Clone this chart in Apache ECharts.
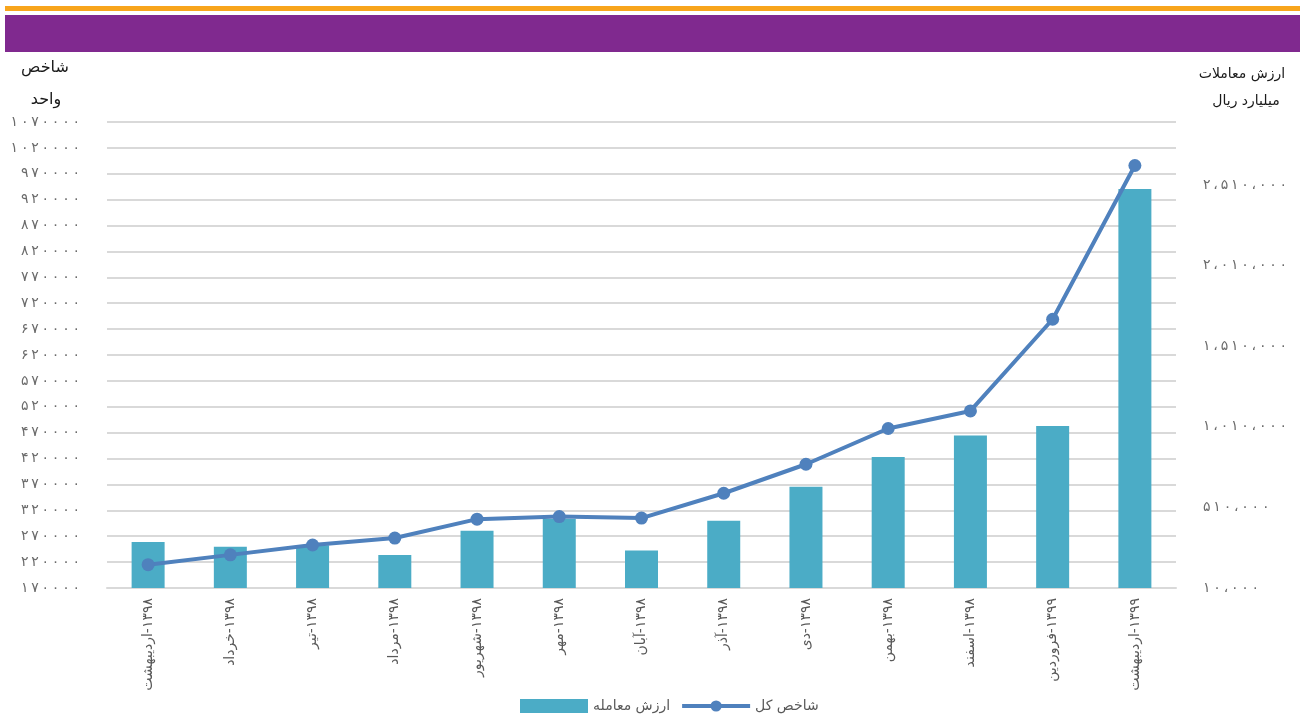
<!DOCTYPE html>
<html>
<head>
<meta charset="utf-8">
<script src="https://cdn.jsdelivr.net/npm/echarts@6/dist/echarts.min.js"></script>
<style>
html,body{margin:0;padding:0;background:#fff;}
#c{width:1300px;height:714px;}
</style>
</head>
<body>
<div id="c"></div>
<script>
var months = ['اردیبهشت','خرداد','تیر','مرداد','شهریور','مهر','آبان','آذر','دی','بهمن','اسفند','فروردین','اردیبهشت'];
var years = ['۱۳۹۸','۱۳۹۸','۱۳۹۸','۱۳۹۸','۱۳۹۸','۱۳۹۸','۱۳۹۸','۱۳۹۸','۱۳۹۸','۱۳۹۸','۱۳۹۸','۱۳۹۹','۱۳۹۹'];
var tradeValue = [295000, 266000, 275000, 215000, 365000, 438000, 243000, 427000, 638000, 822000, 956000, 1014000, 2485000];
var indexValue = [215000, 234000, 253000, 266500, 303000, 308000, 305000, 353000, 409000, 478000, 512000, 689000, 986000];
var leftAxisMin = 170000, leftAxisMax = 1070000, leftAxisStep = 50000;
var rightAxisMin = 10000, rightAxisMax = 2900000, rightAxisStep = 500000;
var seriesNames = ['ارزش معامله', 'شاخص کل'];
var leftAxisTitle = ['شاخص', 'واحد'];
var rightAxisTitle = ['ارزش معاملات', 'میلیارد ریال'];

// category label: month on the left, year on the right (LRM keeps the year separate)
var categories = months.map(function(m, i){ return m + '\u200E-' + years[i]; });

var FA = '۰۱۲۳۴۵۶۷۸۹';
var THIN = '\u2009';
function toFa(s){ return String(s).replace(/[0-9]/g, function(d){ return FA[+d]; }); }
function spaced(s){ return s.split('').join(THIN); }
function faComma(n){ return toFa(String(n).replace(/\B(?=(\d{3})+(?!\d))/g, '،')); }

var FONT = "'DejaVu Sans', sans-serif";
var chart = echarts.init(document.getElementById('c'), null, {renderer:'canvas'});
chart.setOption({
  animation: false,
  textStyle: {fontFamily: FONT},
  graphic: [
    {type:'rect', shape:{x:5, y:6, width:1295, height:5}, style:{fill:'#F8A51C'}},
    {type:'rect', shape:{x:5, y:15, width:1295, height:37}, style:{fill:'#80298F'}},
    {type:'text', x:45, y:60, style:{text:leftAxisTitle[0], fill:'#1a1a1a', font:'16px '+FONT, align:'center'}},
    {type:'text', x:46, y:92, style:{text:leftAxisTitle[1], fill:'#1a1a1a', font:'16px '+FONT, align:'center'}},
    {type:'text', x:1242, y:67, style:{text:rightAxisTitle[0], fill:'#1a1a1a', font:'14px '+FONT, align:'center'}},
    {type:'text', x:1246, y:94, style:{text:rightAxisTitle[1], fill:'#1a1a1a', font:'14px '+FONT, align:'center'}}
  ],
  grid: {left:107, right:124, top:122, bottom:126, containLabel:false},
  legend: {
    top: 694, left: 515,
    itemWidth: 68, itemHeight: 14, itemGap: 10,
    textStyle: {color:'#595959', fontSize:14, fontFamily: FONT},
    data: [
      {name: seriesNames[0], icon: 'rect'},
      {name: seriesNames[1], lineStyle: {width: 4}}
    ]
  },
  xAxis: {
    type: 'category',
    data: categories,
    axisLine: {lineStyle:{color:'#D9D9D9', width:2}},
    axisTick: {show:false},
    axisLabel: {rotate: 90, color:'#595959', fontSize:14, margin:10, interval:0, fontFamily: FONT}
  },
  yAxis: [
    {
      type: 'value', min: leftAxisMin, max: leftAxisMax, interval: leftAxisStep,
      axisLine:{show:false}, axisTick:{show:false},
      splitLine: {lineStyle:{color:'#D9D9D9', width:2}},
      axisLabel: {color:'#6b6b6b', fontSize:14, margin:27, fontFamily: FONT, formatter: function(v){ return spaced(toFa(v)); }}
    },
    {
      type: 'value', min: rightAxisMin, max: rightAxisMax, interval: rightAxisStep,
      position: 'right',
      axisLine:{show:false}, axisTick:{show:false},
      splitLine: {show:false},
      axisLabel: {color:'#6b6b6b', fontSize:14, margin:27, showMaxLabel:false, fontFamily: FONT, formatter: function(v){ return spaced(faComma(v)); }}
    }
  ],
  series: [
    {
      name: seriesNames[0], type: 'bar', yAxisIndex: 1, data: tradeValue,
      barWidth: 33, itemStyle: {color:'#4BACC6'}
    },
    {
      name: seriesNames[1], type: 'line', yAxisIndex: 0, data: indexValue,
      symbol: 'circle', symbolSize: 13,
      lineStyle: {color:'#4F81BD', width:4},
      itemStyle: {color:'#4F81BD'}
    }
  ]
});
</script>
</body>
</html>
